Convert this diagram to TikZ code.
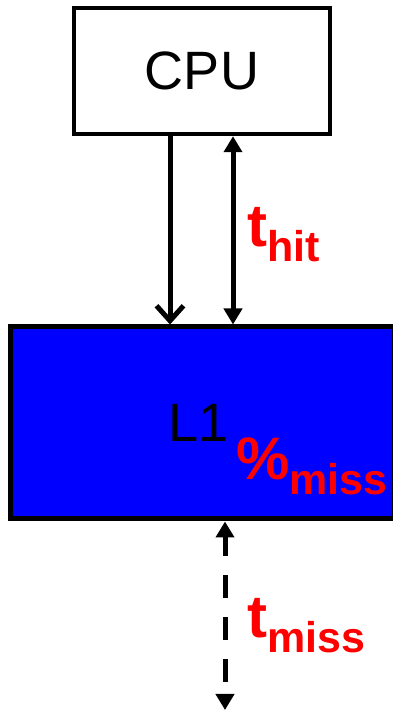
\documentclass[tikz,border=0pt]{standalone}
\usepackage{fontspec}
\setmainfont{Liberation Sans}
\usetikzlibrary{arrows.meta,positioning}
\newcommand{\lbl}[2]{{\fontsize{60}{60}\selectfont #1}\raisebox{-15pt}{\fontsize{43}{43}\selectfont #2}}
\tikzset{
  box/.style={rectangle, draw, line width=4.5pt, font=\fontsize{54}{60}\selectfont, inner sep=0pt},
  cache/.style={box, fill=blue, line width=5pt},
  lab/.style={anchor=base west, inner sep=0pt, text=red, font=\bfseries},
  req/.style={line width=5pt, -{Straight Barb[length=15pt,width=27pt]}},
  lat/.style={line width=5pt, {Triangle[length=16pt,width=18pt]}-{Triangle[length=16pt,width=18pt]}},
  far/.style={lat, dash pattern=on 23pt off 19pt, dash phase=3pt}
}
\begin{document}
\begin{tikzpicture}[x=1pt,y=1pt]
\useasboundingbox (0,0) rectangle (392,710);
\node[box, minimum width=256pt, minimum height=126pt] (cpu) at (202,639) {CPU};
\node[cache, minimum width=384pt, minimum height=192pt] (l1) at (202,287) {};
\node[font=\fontsize{54}{60}\selectfont, inner sep=0pt] (l1txt) at (199,287) {L1};

\coordinate (xreq) at (170,0);
\coordinate (xhit) at (233,0);
\coordinate (mem) at (225,0);

\draw[req] (cpu.south -| xreq) -- (l1.north -| xreq);
\draw[lat] (cpu.south -| xhit) -- (l1.north -| xhit);
\draw[far] (l1.south -| mem) -- (mem);

\node[lab] (thit) at (247,463) {\lbl{t}{hit}};
\node[lab] (pmiss) at (236,230) {\lbl{\%}{miss}};
\node[lab] (tmiss) at (247,72) {\lbl{t}{miss}};
\end{tikzpicture}
\end{document}
